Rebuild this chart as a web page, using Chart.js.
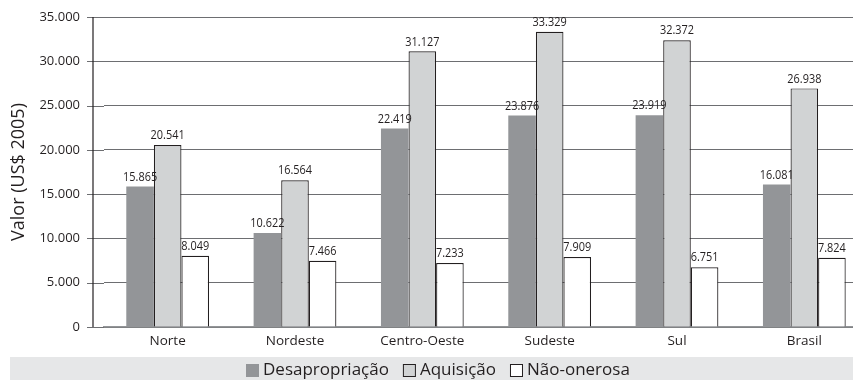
<!DOCTYPE html>
<html>
<head>
<meta charset="utf-8">
<script src="https://cdn.jsdelivr.net/npm/chart.js@4.4.1/dist/chart.umd.min.js"></script>
<style>
html,body{margin:0;padding:0;background:#fff;overflow:hidden;}
#wrap{width:853px;height:380px;position:relative;overflow:hidden;}
</style>
</head>
<body>
<div id="wrap"><canvas id="c" width="868" height="380"></canvas></div>
<script>
const categories = ["Norte", "Nordeste", "Centro-Oeste", "Sudeste", "Sul", "Brasil"];
const desapropriacao = [15865, 10622, 22419, 23876, 23919, 16081];
const aquisicao = [20541, 16564, 31127, 33329, 32372, 26938];
const naoOnerosa = [8049, 7466, 7233, 7909, 6751, 7824];
const seriesNames = ["Desapropriação", "Aquisição", "Não-onerosa"];
const yTicks = [0, 5000, 10000, 15000, 20000, 25000, 30000, 35000];
const yTitle = "Valor (US$ 2005)";

function fmt(v){
  return String(Math.round(v)).replace(/\B(?=(\d{3})+(?!\d))/g, ".");
}

const FONT = "'Open Sans', 'Liberation Sans', sans-serif";
const INK = "#231f20";
const GRID = "#6d6e71";
const AXIS_X = 93;

const axisPlugin = {
  id: 'axisExt',
  beforeDatasetsDraw(chart){
    const ctx = chart.ctx;
    const y = chart.scales.y;
    const a = chart.chartArea;
    ctx.save();
    ctx.strokeStyle = GRID;
    ctx.lineWidth = 1;
    yTicks.forEach(v => {
      const py = Math.round(y.getPixelForValue(v)) + 0.5;
      ctx.beginPath();
      ctx.moveTo(AXIS_X - 6, py);
      ctx.lineTo(a.left, py);
      ctx.stroke();
    });
    ctx.strokeStyle = INK;
    ctx.lineWidth = 1.2;
    ctx.beginPath();
    ctx.moveTo(AXIS_X, y.getPixelForValue(35000));
    ctx.lineTo(AXIS_X, y.getPixelForValue(0));
    ctx.stroke();
    ctx.restore();
  }
};

const labelPlugin = {
  id: 'valueLabels',
  afterDatasetsDraw(chart){
    const ctx = chart.ctx;
    chart.data.datasets.forEach((ds, i) => {
      const meta = chart.getDatasetMeta(i);
      meta.data.forEach((bar, j) => {
        ctx.save();
        ctx.translate(bar.x, bar.y - 3);
        ctx.scale(0.84, 1);
        ctx.font = "13px " + FONT;
        ctx.fillStyle = INK;
        ctx.textAlign = "center";
        ctx.textBaseline = "bottom";
        ctx.fillText(fmt(ds.data[j]), 0, 0);
        ctx.restore();
      });
    });
  }
};

const legendPlugin = {
  id: 'customLegend',
  beforeDraw(chart){
    const ctx = chart.ctx;
    ctx.save();
    ctx.fillStyle = "#e6e7e8";
    ctx.fillRect(10, 357, chart.width - 10, chart.height - 357);
    ctx.restore();
  },
  afterDraw(chart){
    const ctx = chart.ctx;
    ctx.save();
    ctx.font = "17px " + FONT;
    ctx.textBaseline = "middle";
    ctx.textAlign = "left";
    let x = 246;
    const yMid = 370.5;
    chart.data.datasets.forEach((ds, i) => {
      ctx.fillStyle = ds.backgroundColor;
      ctx.fillRect(x, 364, 13, 13);
      if (i > 0) {
        ctx.strokeStyle = INK;
        ctx.lineWidth = 1;
        ctx.strokeRect(x + 0.5, 364.5, 12, 12);
      }
      ctx.fillStyle = INK;
      ctx.fillText(ds.label, x + 17, yMid);
      x += 17 + ctx.measureText(ds.label).width + 14;
    });
    ctx.restore();
  }
};

new Chart(document.getElementById('c'), {
  type: 'bar',
  data: {
    labels: categories,
    datasets: [
      {label: seriesNames[0], data: desapropriacao, backgroundColor: "#939598", borderColor: "#939598", borderWidth: 0},
      {label: seriesNames[1], data: aquisicao, backgroundColor: "#d1d3d4", borderColor: INK, borderWidth: 1.2},
      {label: seriesNames[2], data: naoOnerosa, backgroundColor: "#ffffff", borderColor: INK, borderWidth: 1.2}
    ]
  },
  options: {
    responsive: false,
    animation: false,
    devicePixelRatio: 1,
    layout: {padding: {top: 17, right: 0, left: 0, bottom: 23}},
    datasets: {bar: {categoryPercentage: 0.65, barPercentage: 1.0}},
    plugins: {
      legend: {display: false},
      tooltip: {enabled: false}
    },
    scales: {
      x: {
        grid: {display: false, drawTicks: false},
        border: {display: true, color: "#939598", width: 1.5},
        ticks: {font: {family: FONT, size: 13.5}, color: INK, padding: 6},
        afterFit(s){ s.height = 30; }
      },
      y: {
        min: 0, max: 35000,
        afterBuildTicks(s){ s.ticks = yTicks.map(v => ({value: v})); },
        grid: {color: GRID, lineWidth: 1, drawTicks: false},
        border: {display: false},
        ticks: {font: {family: FONT, size: 13}, color: INK, padding: 24, callback: v => fmt(v)},
        title: {display: true, text: yTitle, font: {family: FONT, size: 18}, color: INK, padding: {top: 8, bottom: 2}},
        afterFit(s){ s.width = 104; s.paddingTop = 0; s.paddingBottom = 0; }
      }
    }
  },
  plugins: [legendPlugin, axisPlugin, labelPlugin]
});
</script>
</body>
</html>
